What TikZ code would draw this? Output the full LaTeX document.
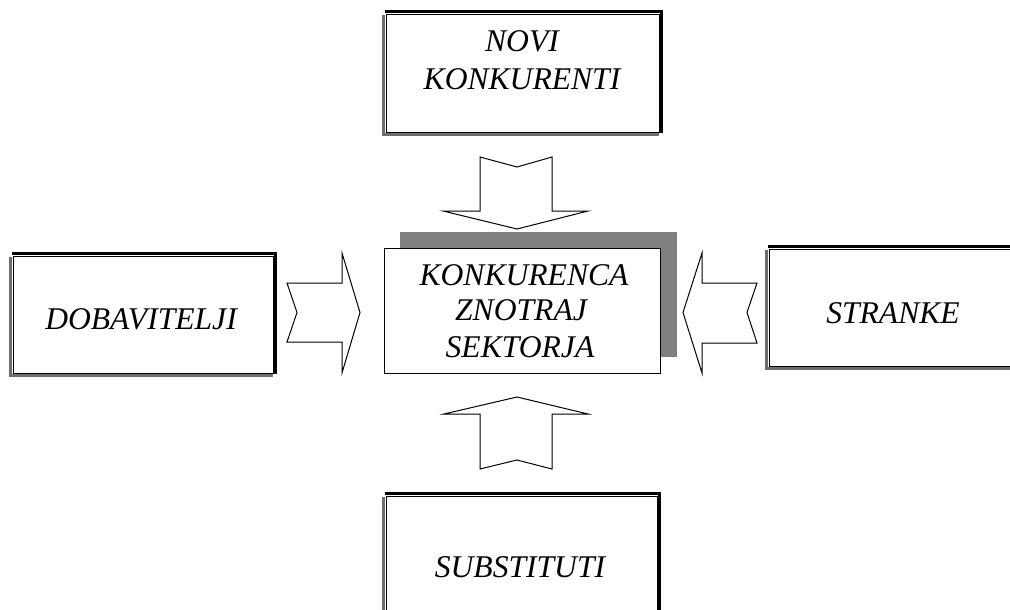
\documentclass[tikz,border=0pt]{standalone}
\usepackage{fontspec}
\setmainfont{Liberation Serif}
\definecolor{shadowgray}{HTML}{808080}
\definecolor{framegray}{HTML}{6E6E6E}
\begin{document}
\begin{tikzpicture}[x=1pt,y=-1pt,
  box/.style={draw=black, line width=0.6pt, fill=white, inner sep=0pt},
  topright/.style={draw=black, line width=3pt},
  leftbottom/.style={draw=framegray, line width=3pt},
  blockarrow/.style={draw=black, line width=1pt, fill=white, line join=miter},
  lbl/.style={font=\itshape\fontsize{31.6}{36}\selectfont, anchor=base, inner sep=0pt}
]
\useasboundingbox (0,0) rectangle (1010,610);
\clip (0,0) rectangle (1010,610);

% top box
\node[box, minimum width=273pt, minimum height=118pt] (novi) at (522.5,73) {};
\draw[leftbottom] ([xshift=-2.5pt,yshift=-1pt]novi.north west) |- ([yshift=-2.5pt]novi.south east);
\draw[topright] ([xshift=-0.5pt,yshift=2.5pt]novi.north west) -| ([xshift=2.5pt,yshift=-1pt]novi.south east);
\node[lbl] (noviA) at (522,52) {NOVI};
\node[lbl] (noviB) at (522,89) {KONKURENTI};

% left box
\node[box, minimum width=260pt, minimum height=117pt] (dob) at (143,314.5) {};
\draw[leftbottom] ([xshift=-2.5pt,yshift=-1pt]dob.north west) |- ([yshift=-2.5pt]dob.south east);
\draw[topright] ([xshift=-0.5pt,yshift=2.5pt]dob.north west) -| ([xshift=2.5pt,yshift=-1pt]dob.south east);
\node[lbl] (dobT) at (141,329) {DOBAVITELJI};

% right box
\node[box, minimum width=250pt, minimum height=117pt] (str) at (894,307.5) {};
\draw[leftbottom] ([xshift=-2.5pt,yshift=-1pt]str.north west) |- ([yshift=-2.5pt]str.south east);
\draw[topright] ([xshift=-0.5pt,yshift=2.5pt]str.north west) -- ([yshift=2.5pt]str.north east);
\node[lbl] (strT) at (893,323) {STRANKE};

% bottom box
\node[box, minimum width=271pt, minimum height=130pt] (sub) at (521.5,561) {};
\draw[leftbottom] ([xshift=-2.5pt,yshift=-1pt]sub.north west) -- ([xshift=-2.5pt]sub.south west);
\draw[topright] ([xshift=-0.5pt,yshift=2.5pt]sub.north west) -| ([xshift=2.5pt]sub.south east);
\node[lbl] (subT) at (520,577) {SUBSTITUTI};

% centre box with shadow
\fill[shadowgray] (400,232) rectangle (677,357);
\node[box, line width=0.8pt, minimum width=276pt, minimum height=125pt] (kon) at (522,310.5) {};
\node[lbl] (konA) at (524,285) {KONKURENCA};
\node[lbl] (konB) at (521,320) {ZNOTRAJ};
\node[lbl] (konC) at (520,357) {SEKTORJA};

% block arrows
\draw[blockarrow] (287,283) -- (342,283) -- (342,253) -- (360,312.5) -- (342,373) -- (342,342) -- (287,342) -- (297,312.5) -- cycle;
\draw[blockarrow] (757,283) -- (702,283) -- (702,253) -- (683,312.5) -- (702,373) -- (702,343) -- (757,343) -- (747,312.5) -- cycle;
\draw[blockarrow] (480,157) -- (480,211) -- (443,211) -- (517,229) -- (588,211) -- (552,211) -- (552,157) -- (517,167) -- cycle;
\draw[blockarrow] (480,469) -- (480,414) -- (444,414) -- (517,397) -- (588,414) -- (552,414) -- (552,469) -- (517,460) -- cycle;
\end{tikzpicture}
\end{document}
